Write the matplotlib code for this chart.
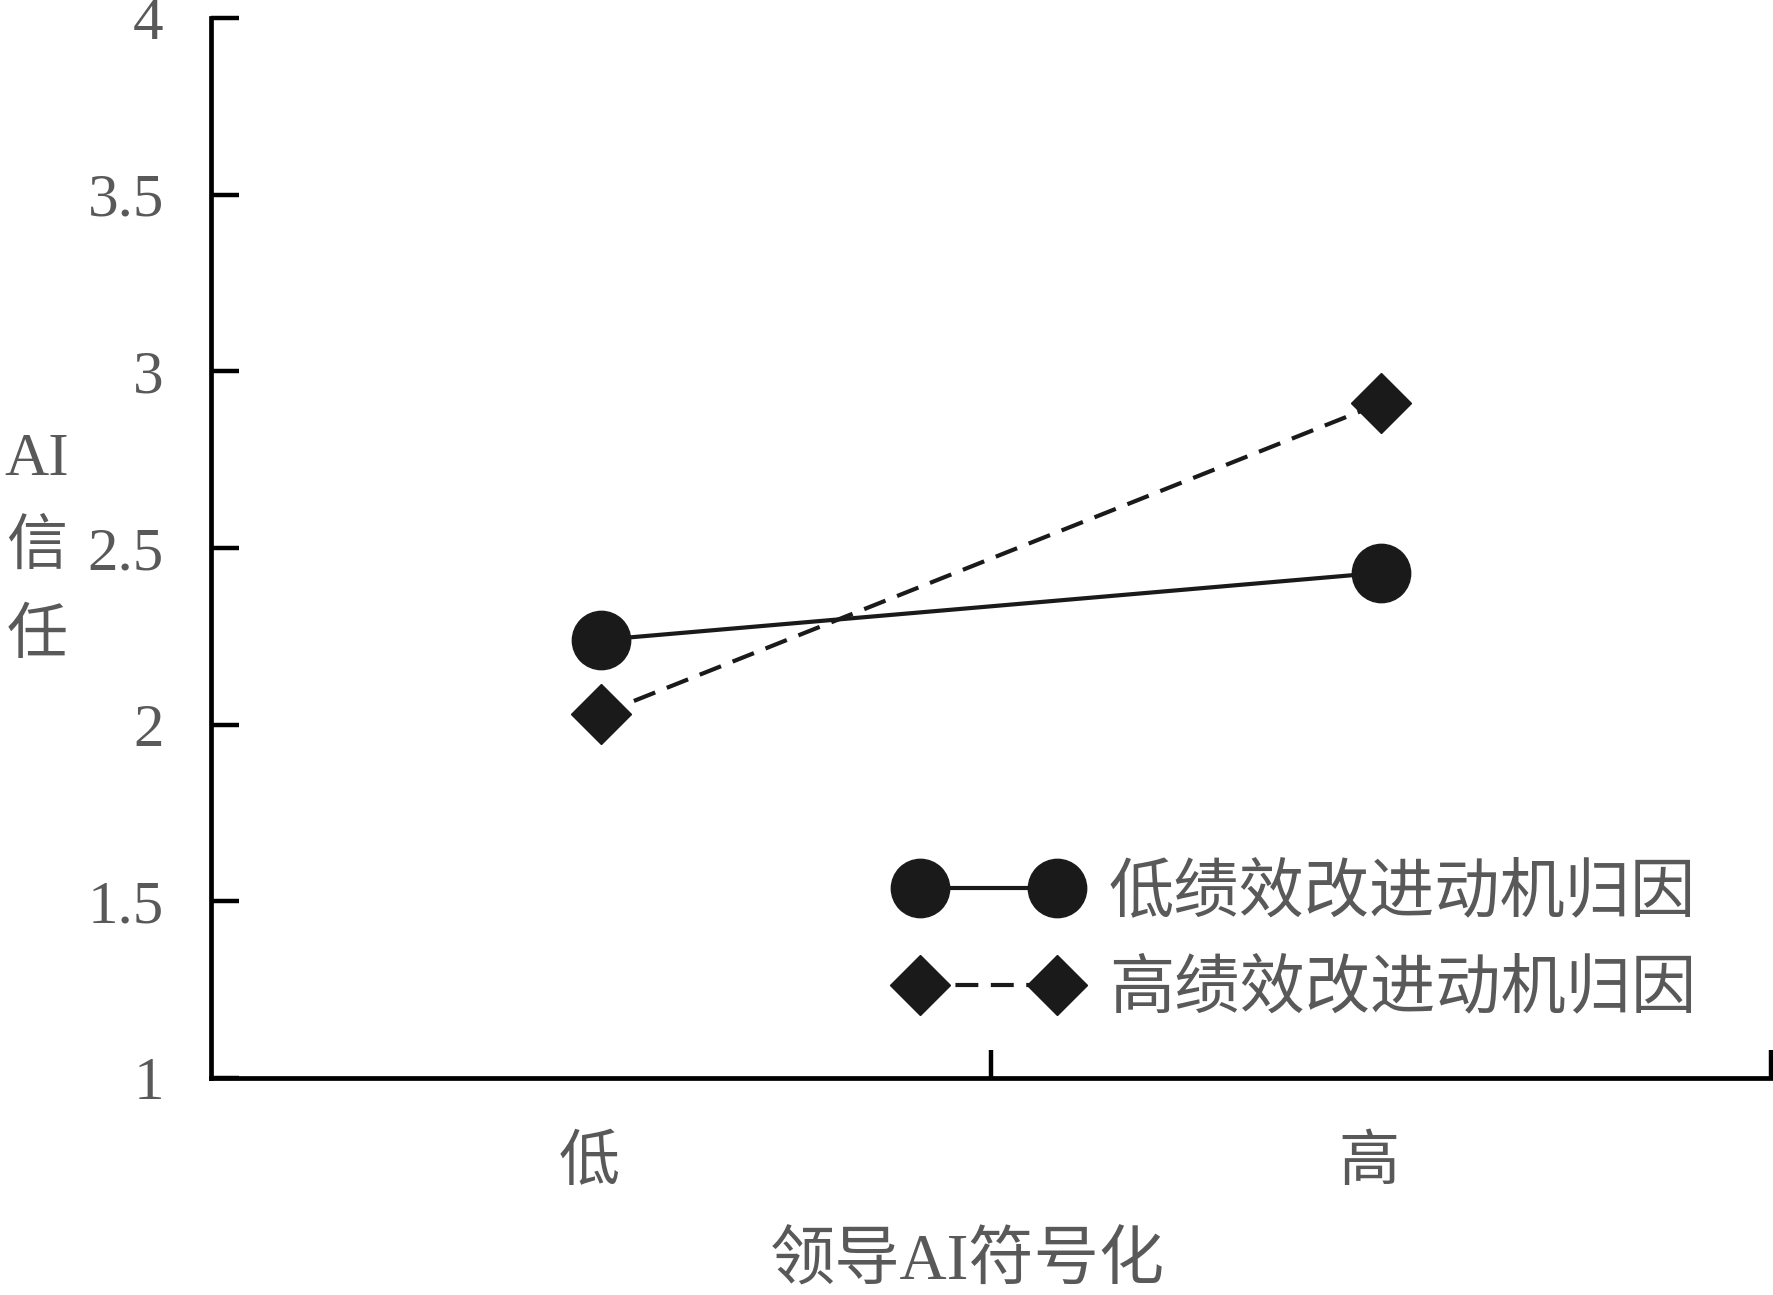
import matplotlib
matplotlib.use("Agg")
import matplotlib.pyplot as plt
from matplotlib.ticker import FixedLocator
from matplotlib.transforms import ScaledTranslation

# data
groups = ["低", "高"]
low_attr = [2.24, 2.43]
high_attr = [2.03, 2.91]
series_names = ["低绩效改进动机归因", "高绩效改进动机归因"]
y_ticks = [1, 1.5, 2, 2.5, 3, 3.5, 4]
y_ticklabels = ["1", "1.5", "2", "2.5", "3", "3.5", "4"]

plt.rcParams["font.family"] = ["Liberation Serif", "Noto Sans CJK SC", "DejaVu Sans"]
ink = "#1a1a1a"
gray = "#595959"

fig = plt.figure(figsize=(17.74, 12.95), dpi=100)
ax = fig.add_axes([211 / 1774, 1 - 1078 / 1295, (1771 - 211) / 1774, (1078 - 18) / 1295])

x = list(range(len(groups)))
ax.plot(x, low_attr, color=ink, lw=3, ls="-", marker="o", ms=42,
        label=series_names[0])
ax.plot(x, high_attr, color=ink, lw=3, ls=(0, (5.5, 3)), marker="D", ms=31,
        label=series_names[1])

ax.set_xlim(-0.5, 1.5)
ax.set_ylim(1, 4)
ax.set_yticks(y_ticks)
ax.set_yticklabels(y_ticklabels)
ax.set_xticks(x)
ax.set_xticklabels(groups)
ax.xaxis.set_minor_locator(FixedLocator([0.5, 1.5]))

for s in ["top", "right"]:
    ax.spines[s].set_visible(False)
for s in ["left", "bottom"]:
    ax.spines[s].set_linewidth(3.4)
    ax.spines[s].set_color("black")

ax.tick_params(axis="y", direction="in", length=20, width=3.2, pad=34,
               labelsize=44, labelcolor=gray)
ax.tick_params(axis="x", which="major", length=0, pad=42,
               labelsize=44, labelcolor=gray)
ax.tick_params(axis="x", which="minor", direction="in", length=20, width=3.2)

# nudge category labels a little left, like the original
shift = ScaledTranslation(-12 / 100, 0, fig.dpi_scale_trans)
for lab in ax.get_xticklabels():
    lab.set_transform(lab.get_transform() + shift)

leg = ax.legend(loc="upper left", bbox_to_anchor=(900 / 1774, 1 - 864 / 1295),
                bbox_transform=fig.transFigure, frameon=False, fontsize=47,
                numpoints=2, handlelength=2.7, handletextpad=0.5,
                labelspacing=0.55, borderpad=0, borderaxespad=0)
for t in leg.get_texts():
    t.set_color(gray)

fig.text(37 / 1774, 1 - 549 / 1295, "AI\n信\n任", ha="center", va="center",
         fontsize=44, color=gray, linespacing=1.75)
fig.text(967 / 1774, 1 - 1263 / 1295, "领导AI符号化", ha="center", va="center",
         fontsize=47, color=gray)

fig.savefig("out.png", dpi=100)
